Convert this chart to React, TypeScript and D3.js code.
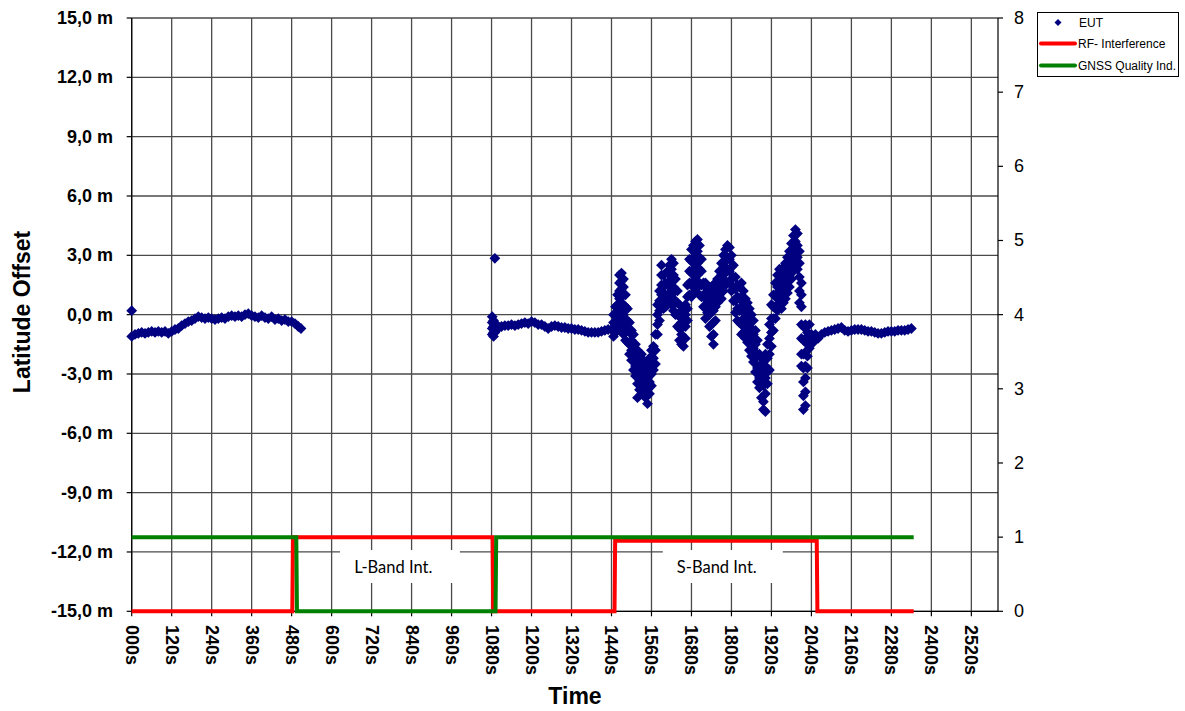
import React from 'react';
import * as d3 from 'd3';

// ---------- data ----------
const timeTicks = [0, 120, 240, 360, 480, 600, 720, 840, 960, 1080, 1200, 1320, 1440, 1560, 1680, 1800, 1920, 2040, 2160, 2280, 2400, 2520];
const offsetTicks = [-15, -12, -9, -6, -3, 0, 3, 6, 9, 12, 15];
const qualityTicks = [0, 1, 2, 3, 4, 5, 6, 7, 8];

// EUT latitude offset (m) before interference
const eutStart: [number, number][] = [
  [0, -1.1], [10, -1.0], [20, -0.95], [30, -0.9], [40, -0.95], [50, -0.9], [60, -0.85], [70, -0.9], [80, -0.85],
  [90, -0.9], [100, -0.85], [110, -0.95], [120, -0.85], [130, -0.75], [140, -0.7], [150, -0.55], [160, -0.45],
  [170, -0.35], [180, -0.3], [190, -0.2], [200, -0.1], [210, -0.15], [220, -0.2], [230, -0.15], [240, -0.2],
  [250, -0.25], [260, -0.2], [270, -0.15], [280, -0.2], [290, -0.1], [300, -0.05], [310, -0.1], [320, -0.05],
  [330, -0.1], [340, 0.0], [350, 0.05], [360, -0.05], [370, -0.1], [380, -0.15], [390, -0.05], [400, -0.15],
  [410, -0.2], [420, -0.1], [430, -0.25], [440, -0.2], [450, -0.3], [460, -0.25], [470, -0.35], [480, -0.35],
  [490, -0.45], [500, -0.6], [508, -0.7],
];

const eutOutliers: [number, number][] = [[0, 0.2], [1090, 2.85]];

// EUT after L-band interference
const eutRecovery: [number, number][] = [
  [1100, -0.6], [1110, -0.6], [1120, -0.55], [1130, -0.55], [1140, -0.5], [1150, -0.55], [1160, -0.5], [1170, -0.45],
  [1180, -0.4], [1190, -0.45], [1200, -0.35], [1210, -0.4], [1220, -0.5], [1230, -0.5], [1240, -0.6], [1250, -0.7],
  [1260, -0.6], [1270, -0.55], [1280, -0.6], [1290, -0.65], [1300, -0.65], [1310, -0.7], [1320, -0.7], [1330, -0.75],
  [1340, -0.75], [1350, -0.8], [1360, -0.85], [1370, -0.9], [1380, -0.9], [1390, -0.9], [1400, -0.9], [1410, -0.85],
  [1420, -0.8], [1430, -0.75], [1440, -0.75],
];

// EUT columns of scattered fixes (time, offsets observed)
const eutDisturbed: [number, number[]][] = [
  [1082, [-0.1, -0.4, -0.7, -1.0]], [1086, [-0.3, -0.6, -0.9, -1.1]], [1090, [-0.6, -0.9]], [1094, [-0.5, -0.8]],
  [1446, [0.0, -0.4, -0.8, -1.1]], [1452, [0.4, 0.0, -0.5, -0.9]], [1458, [1.0, 0.5, 0.1, -0.3, -0.8]],
  [1464, [2.0, 1.6, 1.2, 0.8, 0.3, -0.2]], [1470, [2.1, 1.7, 1.3, 0.9, 0.5, 0.0, -0.5]],
  [1476, [1.8, 1.4, 1.0, 0.5, 0.0, -0.6, -1.0]], [1482, [1.0, 0.4, -0.3, -0.9, -1.3]], [1488, [0.3, -0.3, -0.8, -1.4]],
  [1494, [-0.4, -0.9, -1.5, -2.0]], [1500, [-0.8, -1.3, -1.8, -2.3]], [1506, [-1.0, -1.6, -2.2, -2.8]],
  [1512, [-1.5, -2.0, -2.6, -3.1]], [1518, [-1.8, -2.4, -3.0, -3.5, -4.2]], [1524, [-2.2, -2.8, -3.3, -3.8]],
  [1530, [-2.0, -2.6, -3.2, -3.8]], [1536, [-2.3, -2.9, -3.5, -4.0]], [1542, [-2.5, -3.0, -3.6, -4.2]],
  [1548, [-2.6, -3.2, -3.8, -4.5]], [1554, [-2.2, -2.8, -3.4, -4.0]], [1560, [-1.8, -2.4, -3.0, -3.6]],
  [1566, [-1.6, -2.2, -2.8]], [1572, [-1.0, -1.8, -2.5]], [1578, [0.5, 0.0, -0.5, -1.0]], [1584, [1.2, 0.7, 0.2, -0.3]],
  [1590, [2.5, 2.0, 1.5, 1.0, 0.5]], [1596, [2.0, 1.4, 0.8, 0.3]], [1602, [1.6, 1.0, 0.4]], [1608, [2.2, 1.6, 1.0, 0.5]],
  [1614, [2.5, 2.0, 1.4, 0.8]], [1620, [2.8, 2.3, 1.7, 1.1, 0.5]], [1626, [2.6, 2.0, 1.4, 0.8, 0.2]],
  [1632, [1.8, 1.2, 0.6, 0.0]], [1638, [1.2, 0.6, 0.0, -0.6]], [1644, [0.5, -0.1, -0.7, -1.3]],
  [1650, [0.2, -0.4, -1.0, -1.5]], [1656, [0.0, -0.6, -1.2, -1.6]], [1662, [0.5, 0.0, -0.6, -1.2]],
  [1668, [1.5, 0.9, 0.3, -0.3]], [1674, [2.8, 2.2, 1.6, 1.0]], [1680, [3.3, 2.7, 2.1, 1.5, 0.9]],
  [1686, [3.5, 2.9, 2.3, 1.7, 1.1]], [1692, [3.7, 3.1, 2.5, 1.9, 1.3]], [1698, [3.8, 3.2, 2.6, 2.0, 1.4]],
  [1704, [3.5, 2.9, 2.3, 1.6, 1.0]], [1710, [2.8, 2.2, 1.5, 0.9]], [1716, [1.6, 1.0, 0.4]], [1722, [1.6, 1.0, 0.4, -0.2]],
  [1728, [1.3, 0.7, 0.1]], [1734, [1.2, 0.6, 0.0, -0.6]], [1740, [1.4, 0.8, 0.2, -0.5, -1.1]],
  [1746, [1.5, 0.9, 0.2, -0.4, -1.0, -1.5]], [1752, [1.6, 1.0, 0.4, -0.3]], [1758, [1.8, 1.2, 0.6]],
  [1764, [2.2, 1.6, 1.0]], [1770, [2.6, 2.0, 1.4, 0.8]], [1776, [3.0, 2.4, 1.8, 1.2]], [1782, [3.3, 2.7, 2.1, 1.5]],
  [1788, [3.5, 2.9, 2.3, 1.6]], [1794, [3.4, 2.8, 2.2, 1.6]], [1800, [3.0, 2.4, 1.8, 1.2]], [1806, [2.5, 1.9, 1.3, 0.7]],
  [1812, [1.9, 1.3, 0.7, 0.1]], [1818, [1.5, 0.9, 0.3, -0.3]], [1824, [1.4, 0.8, 0.2, -0.4]],
  [1830, [1.6, 0.9, 0.2, -0.5, -1.0]], [1836, [1.2, 0.5, -0.2, -0.9]], [1842, [0.8, 0.2, -0.5, -1.2]],
  [1848, [0.6, 0.0, -0.7, -1.4]], [1854, [0.3, -0.4, -1.1, -1.8]], [1860, [0.0, -0.7, -1.4, -2.1]],
  [1866, [-0.3, -1.0, -1.7, -2.4]], [1872, [-0.8, -1.5, -2.2, -2.9]], [1878, [-1.3, -2.0, -2.7, -3.4]],
  [1884, [-2.0, -2.6, -3.2, -3.7]], [1890, [-2.2, -2.8, -3.4, -4.2]], [1896, [-2.4, -3.0, -3.6, -4.4, -4.8]],
  [1902, [-2.0, -2.6, -3.2, -4.0, -4.9]], [1908, [-1.5, -2.2, -2.9, -3.5]], [1914, [-0.5, -1.2, -2.0, -2.8]],
  [1920, [0.5, -0.2, -0.9, -1.6]], [1926, [1.0, 0.4, -0.2, -0.8]], [1932, [1.6, 1.0, 0.4, -0.2]],
  [1938, [2.0, 1.4, 0.8, 0.2]], [1944, [2.3, 1.7, 1.1, 0.5]], [1950, [2.1, 1.5, 0.9, 0.3]], [1956, [2.4, 1.8, 1.2, 0.6]],
  [1962, [2.6, 2.0, 1.4, 0.8]], [1968, [2.9, 2.3, 1.7, 1.1]], [1974, [3.2, 2.6, 2.0, 1.4]], [1980, [3.6, 3.0, 2.4, 1.8]],
  [1986, [4.0, 3.4, 2.8, 2.2]], [1992, [4.3, 3.7, 3.1, 2.5]], [1998, [4.1, 3.5, 2.9, 2.3]],
  [2004, [3.2, 2.6, 1.9, 1.2, 0.6]], [2010, [1.6, 1.0, 0.4, -0.5, -1.2, -2.0, -2.6]],
  [2016, [-0.6, -1.3, -2.0, -2.7, -3.4, -4.1, -4.8]], [2022, [-0.5, -1.2, -1.9, -2.6, -3.2, -3.9, -4.6]],
  [2028, [-0.9, -1.5, -2.1, -2.7]], [2034, [-0.5, -1.1, -1.7]], [2040, [-1.0, -1.4]], [2046, [-1.1, -1.4]],
  [2052, [-1.0, -1.2]],
];

// EUT after S-band interference
const eutTail: [number, number][] = [
  [2060, -1.2], [2070, -1.0], [2080, -0.9], [2090, -0.85], [2100, -0.8], [2110, -0.75], [2120, -0.7], [2130, -0.65],
  [2140, -0.8], [2150, -0.85], [2160, -0.8], [2170, -0.75], [2180, -0.75], [2190, -0.75], [2200, -0.8], [2210, -0.85],
  [2220, -0.85], [2230, -0.9], [2240, -0.95], [2250, -0.95], [2260, -0.9], [2270, -0.85], [2280, -0.85], [2290, -0.85],
  [2300, -0.8], [2310, -0.8], [2320, -0.8], [2330, -0.75], [2340, -0.7],
];

// Right-axis step series
const rfInterference: [number, number][] = [
  [0, 0], [482, 0], [484, 1], [1083, 1], [1085, 0], [1449, 0], [1451, 0.95], [2056, 0.95], [2058, 0], [2347, 0],
];
const gnssQuality: [number, number][] = [
  [0, 1], [494, 1], [496, 0], [1092, 0], [1094, 1], [2347, 1],
];

const annotationLabels = ['L-Band Int.', 'S-Band Int.'];
const annotationCenters = [785, 1756]; // seconds
const annotationSpans: [number, number][] = [[625, 985], [1594, 1954]];

// ---------- layout ----------
const W = 1185;
const H = 711;
const M = { left: 131.7, right: 998, top: 18, bottom: 611.3 };
const FONT = 'Liberation Sans, Arial, Helvetica, sans-serif';
const NAVY = '#000080';
const RED = '#FF0000';
const GREEN = '#008000';

function diamond(r: number) {
  return `M0,${-r}L${r},0L0,${r}L${-r},0Z`;
}

function fmtTime(t: number) {
  return t === 0 ? '000s' : `${t}s`;
}
function fmtOffset(v: number) {
  return `${v.toFixed(1).replace('.', ',')} m`;
}

export default function App() {
  const x = d3.scaleLinear().domain([0, 2600]).range([M.left, M.right]);
  const y = d3.scaleLinear().domain([-15, 15]).range([M.bottom, M.top]);
  const y2 = d3.scaleLinear().domain([0, 8]).range([M.bottom, M.top]);

  const eutPoints: [number, number][] = [
    ...eutStart,
    ...eutRecovery,
    ...eutDisturbed.flatMap(([t, vs]) => vs.map((v) => [t, v] as [number, number])),
    ...eutTail,
    ...eutOutliers,
  ];

  const stepLine = d3
    .line<[number, number]>()
    .x((d) => x(d[0]))
    .y((d) => y2(d[1]));

  const dPath = diamond(5.4);

  return (
    <svg
      width={W}
      height={H}
      style={{ position: 'absolute', left: 0, top: 0, display: 'block', background: '#fff' }}
      fontFamily={FONT}
    >
      <rect x={0} y={0} width={W} height={H} fill="#fff" />
      {/* gridlines */}
      {offsetTicks.map((v) => (
        <line key={'hg' + v} x1={M.left} x2={M.right} y1={y(v)} y2={y(v)} stroke="#4a4a4a" strokeWidth={1.3} />
      ))}
      {timeTicks.map((t) => (
        <line key={'vg' + t} x1={x(t)} x2={x(t)} y1={M.top} y2={M.bottom} stroke="#4a4a4a" strokeWidth={1.3} />
      ))}

      {/* annotation boxes */}
      {annotationLabels.map((lab, i) => (
        <g key={lab}>
          <rect
            x={x(annotationSpans[i][0])}
            y={550}
            width={x(annotationSpans[i][1]) - x(annotationSpans[i][0])}
            height={33}
            fill="#fff"
          />
          <text
            x={x(annotationCenters[i])}
            y={y(-12.75)}
            textAnchor="middle"
            dominantBaseline="central"
            fontFamily="Lato, 'Open Sans', sans-serif"
            fontSize={16.5}
            fill="#000"
          >
            {lab}
          </text>
        </g>
      ))}

      {/* axes lines */}
      <line x1={M.left} x2={M.left} y1={M.top} y2={M.bottom} stroke="#000" strokeWidth={1.2} />
      <line x1={M.right} x2={M.right} y1={M.top} y2={M.bottom} stroke="#000" strokeWidth={1.2} />
      <line x1={M.left} x2={M.right} y1={M.bottom} y2={M.bottom} stroke="#000" strokeWidth={1.2} />

      {/* left ticks */}
      {offsetTicks.map((v) => (
        <g key={'lt' + v}>
          <line x1={M.left - 5} x2={M.left} y1={y(v)} y2={y(v)} stroke="#000" strokeWidth={1.2} />
          <text
            x={113}
            y={y(v)}
            textAnchor="end"
            dominantBaseline="central"
            fontWeight="bold"
            fontSize={18}
            fill="#000"
          >
            {fmtOffset(v)}
          </text>
        </g>
      ))}

      {/* right ticks */}
      {qualityTicks.map((v) => (
        <g key={'rt' + v}>
          <line x1={M.right} x2={M.right + 5} y1={y2(v)} y2={y2(v)} stroke="#000" strokeWidth={1.2} />
          <text x={1014} y={y2(v)} dominantBaseline="central" fontSize={18} fill="#000">
            {v}
          </text>
        </g>
      ))}

      {/* bottom ticks */}
      {timeTicks.map((t) => (
        <g key={'bt' + t}>
          <line x1={x(t)} x2={x(t)} y1={M.bottom} y2={M.bottom + 5} stroke="#000" strokeWidth={1.2} />
          <text
            transform={`translate(${x(t)},${625}) rotate(90)`}
            dominantBaseline="central"
            fontWeight="bold"
            fontSize={18}
            fill="#000"
          >
            {fmtTime(t)}
          </text>
        </g>
      ))}

      {/* EUT scatter */}
      <g fill={NAVY}>
        {eutPoints.map((d, i) => (
          <path key={'p' + i} d={dPath} transform={`translate(${x(d[0])},${y(d[1])})`} />
        ))}
      </g>

      {/* step series */}
      <path d={stepLine(rfInterference) || ''} fill="none" stroke={RED} strokeWidth={4} />
      <path d={stepLine(gnssQuality) || ''} fill="none" stroke={GREEN} strokeWidth={4} />

      {/* axis titles */}
      <text x={575} y={704} textAnchor="middle" fontWeight="bold" fontSize={23} fill="#000">
        Time
      </text>
      <text
        transform={`translate(30,${312}) rotate(-90)`}
        textAnchor="middle"
        fontWeight="bold"
        fontSize={23}
        fill="#000"
      >
        Latitude Offset
      </text>

      {/* legend */}
      <g>
        <rect x={1037.5} y={12.5} width={141} height={64} fill="#fff" stroke="#000" strokeWidth={1} />
        <path d={diamond(3.5)} transform="translate(1058,22.5)" fill={NAVY} />
        <text x={1079} y={22.5} dominantBaseline="central" fontSize={12} fill="#000">
          EUT
        </text>
        <line x1={1041} x2={1075} y1={43.5} y2={43.5} stroke={RED} strokeWidth={4} strokeLinecap="round" />
        <text x={1078} y={43.5} dominantBaseline="central" fontSize={12} fill="#000">
          RF- Interference
        </text>
        <line x1={1041} x2={1075} y1={65.5} y2={65.5} stroke={GREEN} strokeWidth={4} strokeLinecap="round" />
        <text x={1078} y={65.5} dominantBaseline="central" fontSize={12} fill="#000">
          GNSS Quality Ind.
        </text>
      </g>
    </svg>
  );
}
